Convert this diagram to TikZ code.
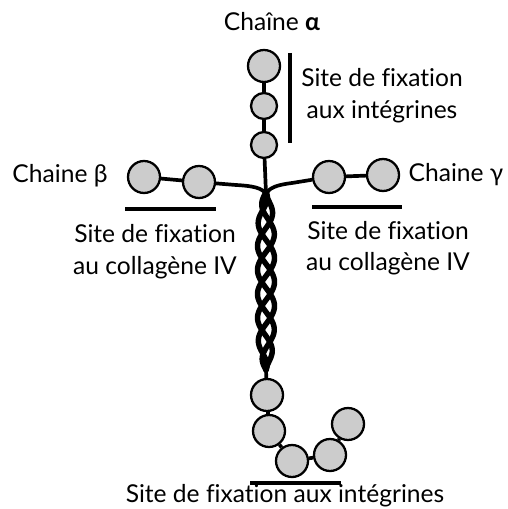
\documentclass[tikz,border=0pt]{standalone}
\usepackage{fontspec}
\setmainfont{Lato}[Ligatures=NoCommon]
\usetikzlibrary{backgrounds}

\begin{document}
\begin{tikzpicture}[x=0.02cm, y=-0.02cm,
    bead/.style={circle, draw=black, line width=1.3pt, fill=black!20,
                 inner sep=0pt, minimum size=0.64cm},
    smallbead/.style={bead, minimum size=0.52cm},
    link/.style={line width=2.1pt},
    site/.style={line width=2.5pt},
    strand/.style={line width=3.1pt, line cap=round},
    lbl/.style={font=\fontsize{14}{18}\selectfont, align=center}]
  \useasboundingbox (0,0) rectangle (507,509);

  % alpha chain
  \node[lbl] (alpha) at (272,22) {Chaîne \textbf{α}};
  \node[bead] (a1) at (264,66) {};
  \node[smallbead] (a2) at (264,106) {};
  \node[smallbead] (a3) at (264,145) {};
  \draw[site] (290,53) -- (290,143);
  \node[lbl] (alphasite) at (382,96) {Site de fixation\\aux intégrines};

  % beta chain
  \node[lbl] (beta) at (60,176) {Chaine β};
  \node[bead] (b1) at (144,177) {};
  \node[bead] (b2) at (199,182) {};
  \draw[site] (125,209) -- (216,209);
  \node[lbl] (betasite) at (155,252) {Site de fixation\\au collagène IV};

  % gamma chain
  \node[lbl] (gamma) at (456,175) {Chaine γ};
  \node[bead] (g1) at (329,177) {};
  \node[bead] (g2) at (383,175) {};
  \draw[site] (312,207) -- (402,207);
  \node[lbl] (gammasite) at (388,248) {Site de fixation\\au collagène IV};

  % C-terminal beads
  \node[bead] (e1) at (267,395) {};
  \node[bead] (e2) at (269,431) {};
  \node[bead] (e3) at (292,461) {};
  \node[bead] (e4) at (330,455) {};
  \node[bead] (e5) at (348,424) {};
  \draw[site] (250,483) -- (341,483);
  \node[lbl] (endsite) at (285,496) {Site de fixation aux intégrines};

  \coordinate (htop) at (266,194);
  \coordinate (hbot) at (266,370);
  \coordinate (bk) at (236,185);
  \coordinate (gk) at (292,183);

  \begin{scope}[on background layer]
    \draw[link] (a1) -- (a2) -- (a3) -- (htop);
    \draw[link] (b1) -- (b2) -- (bk) .. controls (254,186) and (262,188) .. (htop);
    \draw[link] (g1) -- (g2);
    \draw[link] (g1) -- (gk) .. controls (276,185) and (269,188) .. (htop);
    % coiled coil
    \foreach \k in {0,120,240}
      \draw[strand] plot[domain=192:370, samples=120, smooth]
        ({266 + 8.5*(1-abs((\x-281)/89)^6)*sin(5*(\x-192) + \k)}, \x);
    \draw[link] (hbot) -- (e1) -- (e2) -- (e3) -- (e4) -- (e5);
  \end{scope}
\end{tikzpicture}
\end{document}
